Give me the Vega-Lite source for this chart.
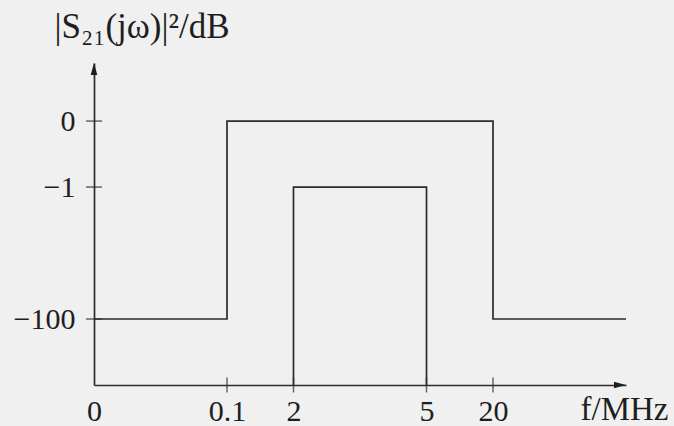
{
  "$schema": "https://vega.github.io/schema/vega-lite/v6.json",
  "width": 532,
  "height": 322,
  "autosize": {"type": "none"},
  "padding": {"left": 94, "top": 63, "right": 48, "bottom": 41},
  "background": "#f0f0f0",
  "config": {"view": {"stroke": null}, "font": "Liberation Serif"},
  "datasets": {
    "masks": [
      {"trace": "outer", "seq": 1, "fpos": 0, "level": 1},
      {"trace": "outer", "seq": 2, "fpos": 2, "level": 1},
      {"trace": "outer", "seq": 3, "fpos": 2, "level": 4},
      {"trace": "outer", "seq": 4, "fpos": 6, "level": 4},
      {"trace": "outer", "seq": 5, "fpos": 6, "level": 1},
      {"trace": "outer", "seq": 6, "fpos": 8, "level": 1},
      {"trace": "inner", "seq": 1, "fpos": 3, "level": 0},
      {"trace": "inner", "seq": 2, "fpos": 3, "level": 3},
      {"trace": "inner", "seq": 3, "fpos": 5, "level": 3},
      {"trace": "inner", "seq": 4, "fpos": 5, "level": 0}
    ],
    "yticks": [
      {"fpos": 0, "level": 1},
      {"fpos": 0, "level": 3},
      {"fpos": 0, "level": 4}
    ],
    "xticks": [
      {"fpos": 2, "level": 0},
      {"fpos": 3, "level": 0},
      {"fpos": 5, "level": 0},
      {"fpos": 6, "level": 0}
    ],
    "yarrow": [{"fpos": 0, "level": 4.88}],
    "xarrow": [{"fpos": 8, "level": 0}]
  },
  "layer": [
    {
      "data": {"name": "masks"},
      "mark": {"type": "line", "stroke": "#2b2b2b", "strokeWidth": 1.7},
      "encoding": {
        "x": {
          "field": "fpos", "type": "quantitative",
          "scale": {"domain": [0, 8], "nice": false, "zero": false},
          "axis": {
            "values": [0, 2, 3, 5, 6],
            "labelExpr": "datum.value == 0 ? '0' : datum.value == 2 ? '0.1' : datum.value == 3 ? '2' : datum.value == 5 ? '5' : '20'",
            "grid": false, "ticks": false, "tickSize": 0,
            "domainColor": "#2b2b2b", "domainWidth": 1.7,
            "labelFont": "Liberation Serif", "labelFontSize": 30, "labelColor": "#1e1e1e",
            "labelPadding": 11, "labelFlush": false, "labelOverlap": false,
            "title": "f/MHz", "titleFont": "Liberation Serif", "titleFontSize": 33,
            "titleFontWeight": "normal", "titleColor": "#1e1e1e",
            "titleAlign": "left", "titleAnchor": "start", "titleBaseline": "alphabetic",
            "titleX": 486, "titleY": 34
          }
        },
        "y": {
          "field": "level", "type": "quantitative",
          "scale": {"domain": [0, 4.88], "nice": false, "zero": false},
          "axis": {
            "values": [1, 3, 4],
            "labelExpr": "datum.value == 4 ? '0' : datum.value == 3 ? '\u22121' : '\u2212100'",
            "grid": false, "ticks": false, "tickSize": 0,
            "domainColor": "#2b2b2b", "domainWidth": 1.7,
            "labelFont": "Liberation Serif", "labelFontSize": 30, "labelColor": "#1e1e1e",
            "labelPadding": 19, "labelFlush": false, "labelOverlap": false,
            "encode": {"labels": {"update": {"dx": {"signal": "datum.value == 3 ? -17 : 0"}}}},
            "title": "|S\u2082\u2081(j\u03c9)|\u00b2/dB", "titleFont": "Liberation Serif", "titleFontSize": 35,
            "titleFontWeight": "normal", "titleColor": "#1e1e1e",
            "titleAngle": 0, "titleAlign": "left", "titleBaseline": "alphabetic",
            "titleX": -40, "titleY": -26
          }
        },
        "detail": {"field": "trace"},
        "order": {"field": "seq"}
      }
    },
    {
      "data": {"name": "yticks"},
      "mark": {"type": "tick", "orient": "horizontal", "size": 16, "thickness": 1.5, "color": "#2b2b2b"},
      "encoding": {
        "x": {"field": "fpos", "type": "quantitative"},
        "y": {"field": "level", "type": "quantitative"}
      }
    },
    {
      "data": {"name": "xticks"},
      "mark": {"type": "tick", "orient": "vertical", "size": 15, "thickness": 1.5, "color": "#2b2b2b"},
      "encoding": {
        "x": {"field": "fpos", "type": "quantitative"},
        "y": {"field": "level", "type": "quantitative"}
      }
    },
    {
      "data": {"name": "yarrow"},
      "mark": {"type": "point", "shape": "M0,0L0.55,2L-0.55,2Z", "size": 144, "filled": true, "color": "#1e1e1e", "opacity": 1},
      "encoding": {
        "x": {"field": "fpos", "type": "quantitative"},
        "y": {"field": "level", "type": "quantitative"}
      }
    },
    {
      "data": {"name": "xarrow"},
      "mark": {"type": "point", "shape": "M0,0L-2,0.55L-2,-0.55Z", "size": 144, "filled": true, "color": "#1e1e1e", "opacity": 1},
      "encoding": {
        "x": {"field": "fpos", "type": "quantitative"},
        "y": {"field": "level", "type": "quantitative"}
      }
    }
  ]
}
